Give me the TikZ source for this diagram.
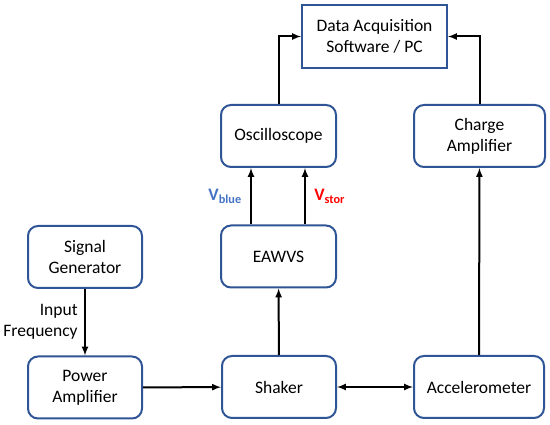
\documentclass[tikz,border=0pt]{standalone}
\usepackage{fontspec}
\setmainfont{Carlito}
\definecolor{boxblue}{HTML}{2F5597}
\definecolor{vblue}{HTML}{4472C4}
\definecolor{vred}{HTML}{FF0000}

\begin{document}
\begin{tikzpicture}[x=1pt,y=-1pt,
  every node/.style={font=\fontsize{17.5}{21}\selectfont, align=center},
  blk/.style={draw=boxblue, line width=2pt, rounded corners=10pt, fill=white,
              inner sep=0pt, minimum height=62pt},
  arr/.style={-latex, line width=2pt}]
\useasboundingbox (0,0) rectangle (550,425);
 \node[draw=boxblue, line width=2pt, minimum width=145pt, minimum height=63pt] (daq) at (374.5,36.5) {Data Acquisition\\Software / PC};
 \begin{scope}[every node/.append style={blk}]
  \node[minimum width=115pt] (osc) at (278.5,136) {Oscilloscope};
  \node[minimum width=131pt] (chg) at (479.5,136) {Charge\\Amplifier};
  \node[minimum width=115pt] (eaw) at (278.5,256.5) {EAWVS};
  \node[minimum width=114pt] (sig) at (85,257) {Signal\\Generator};
  \node[minimum width=114pt] (pwr) at (85,387.5) {Power\\Amplifier};
  \node[minimum width=114pt] (shk) at (279,387) {Shaker};
  \node[minimum width=130pt] (acc) at (479,387) {Accelerometer};
 \end{scope}
  \draw[arr] (osc.north) |- (daq.west);
  \draw[arr] (chg.north) |- (daq.east);
  \draw[arr] ([xshift=-27.5pt]eaw.north) -- node[left=5pt, text=vblue] {\textbf{V\textsubscript{blue}}} ([xshift=-27.5pt]osc.south);
  \draw[arr] ([xshift=26.5pt]eaw.north) -- node[right=5pt, text=vred] {\textbf{V\textsubscript{stor}}} ([xshift=26.5pt]osc.south);
  \draw[arr] (sig) -- node[left=3pt, align=right] {Input\\Frequency} (pwr);
  \draw[arr] (pwr) -- (shk);
  \draw[arr] (shk) -- (eaw);
  \draw[latex-latex, line width=2pt] (shk) -- (acc);
  \draw[arr] (acc) -- (chg);
\end{tikzpicture}
\end{document}
